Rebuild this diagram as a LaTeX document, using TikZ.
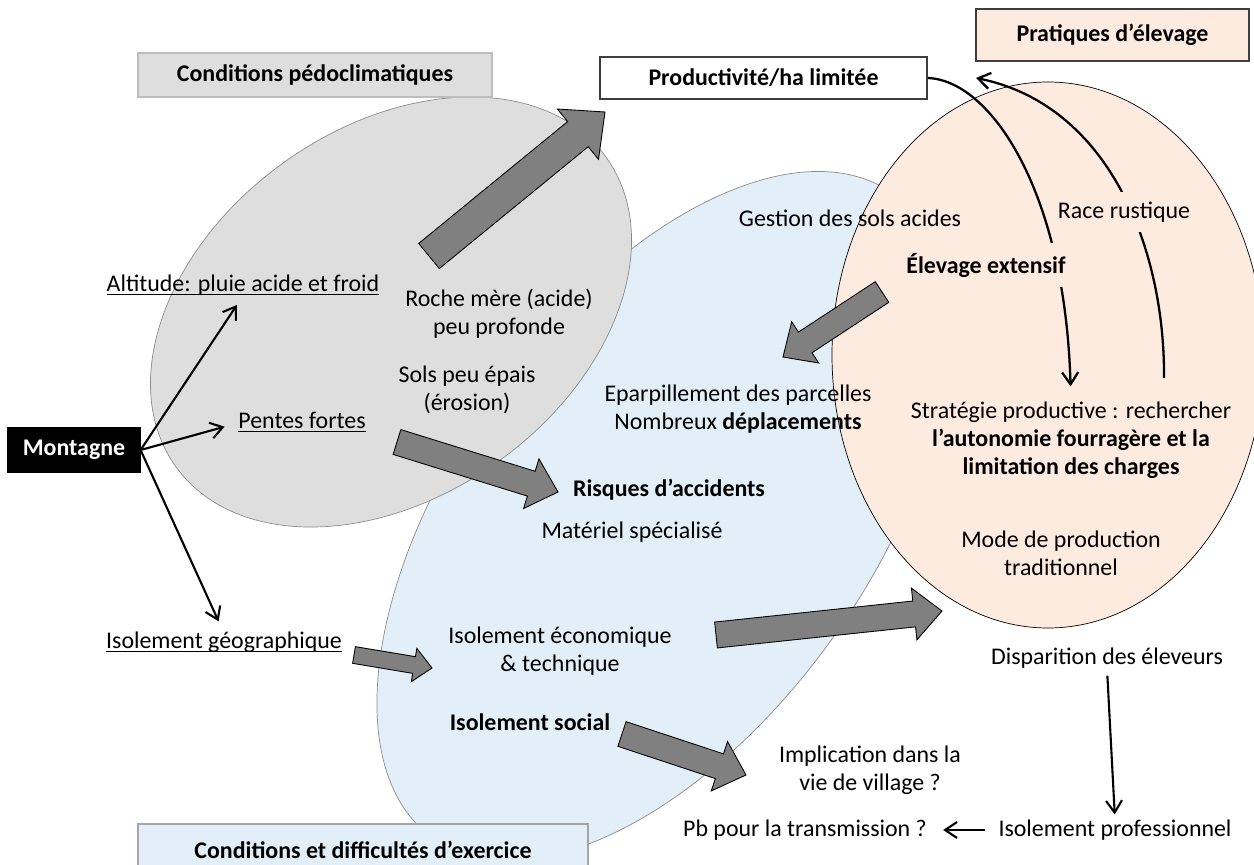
\documentclass[tikz,border=0pt]{standalone}
\usepackage{fontspec}
\setmainfont{Carlito}
\usetikzlibrary{arrows.meta,calc,positioning}

\definecolor{pedogray}{HTML}{DEDEDE}
\definecolor{pedoline}{HTML}{BDBDBD}
\definecolor{exerblue}{HTML}{E2EEF8}
\definecolor{exerline}{HTML}{A6A6A6}
\definecolor{elevpeach}{HTML}{FDEBDF}
\definecolor{ellline}{HTML}{8C8C8C}
\definecolor{darkline}{HTML}{3F3F3F}
\definecolor{fatgray}{HTML}{808080}

\pgfdeclarelayer{zones}
\pgfdeclarelayer{links}
\pgfsetlayers{zones,links,main}

\tikzset{
  txt/.style    = {font=\fontsize{13.6}{15.9}\selectfont, align=center, inner sep=0pt},
  txtb/.style   = {txt, font=\fontsize{13.6}{15.9}\selectfont\bfseries},
  cadre/.style  = {txtb, draw, line width=0.7pt},
  cache/.style  = {fill=elevpeach, inner xsep=1mm, inner ysep=2mm},
  fine/.style   = {-{Straight Barb[length=2.4mm,width=3.2mm]}, line width=1.2pt},
  courbe/.style = {fine, line width=1.3pt},
  fatarr/.style = {fill=fatgray, draw=black, line width=0.5pt, line join=miter}
}

% underline close to the baseline
\newcommand{\souligne}[1]{\underline{\smash{#1}\vphantom{A}}}

% block arrow: [size]{tail}{tip}
\newcommand{\fatarrow}[3][1]{%
  \coordinate (fa-h) at ($(#3)!#1*5.6mm!(#2)$);
  \draw[fatarr] ($(#2)!#1*2.6mm!90:(#3)$)
    -- ($(fa-h)!#1*2.6mm!90:(#3)$) -- ($(fa-h)!#1*5.2mm!90:(#3)$)
    -- (#3)
    -- ($(fa-h)!#1*5.2mm!-90:(#3)$) -- ($(fa-h)!#1*2.6mm!-90:(#3)$)
    -- ($(#2)!#1*2.6mm!-90:(#3)$) -- cycle;%
}

\begin{document}
\begin{tikzpicture}[x=0.02cm, y=-0.02cm]
  \useasboundingbox (0,0) rectangle (1254,865);

  % the three zones
  \begin{pgfonlayer}{zones}
    \draw[ellline, fill=exerblue, rotate around={54.5:(663,516)}]
      (663,516) ellipse [x radius=396, y radius=209];
    \draw[ellline, fill=pedogray, rotate around={35.7:(391,312)}]
      (391,312) ellipse [x radius=265, y radius=184];
    \draw[black, thin, fill=elevpeach] (1048,355) ellipse [x radius=216, y radius=273];
  \end{pgfonlayer}

  % title boxes
  \node[cadre, fill=pedogray, draw=pedoline, minimum width=70.8mm, minimum height=8.8mm]
    (pedo) at (315,75) {Conditions pédoclimatiques};
  \node[cadre, fill=white, draw=darkline, minimum width=65.4mm, minimum height=8.4mm]
    (prod) at (763.5,78) {Productivité/ha limitée};
  \node[cadre, fill=elevpeach, draw=darkline, minimum width=54.6mm, minimum height=10.4mm]
    (prat) at (1112.5,35) {Pratiques d’élevage};
  \node[cadre, fill=exerblue, draw=exerline, minimum width=90mm, minimum height=10.4mm]
    (exer) at (363,850) {Conditions et difficultés d’exercice};
  \node[cadre, fill=black, text=white, minimum width=26.4mm, minimum height=8.8mm]
    (mont) at (74,450) {Montagne};

  % factors
  \node[txt] (alt)    at (243,286) {\souligne{Altitude: pluie acide et froid}};
  \node[txt] (pentes) at (302,423) {\souligne{Pentes fortes}};
  \node[txt] (geo)    at (224,643) {\souligne{Isolement géographique}};

  \node[txt] (roche)  at (499,314) {Roche mère (acide)\\peu profonde};
  \node[txt] (sols)   at (467,390) {Sols peu épais\\(érosion)};

  \node[txt]  (gestion) at (850,218) {Gestion des sols acides};
  \node[txt]  (epar)    at (738,409) {Eparpillement des parcelles\\Nombreux \textbf{déplacements}};
  \node[txtb] (risq)    at (669,490) {Risques d’accidents};
  \node[txt]  (mat)     at (632,532) {Matériel spécialisé};
  \node[txt]  (isoeco)  at (560,651) {Isolement économique\\\& technique};
  \node[txtb] (social)  at (530,722) {Isolement social};

  \node[txt, cache]  (race)  at (1124,212) {Race rustique};
  \node[txtb, cache] (elev)  at (986,265) {Élevage extensif};
  \node[txt] (strat) at (1071,440) {Stratégie productive : rechercher\\
    \textbf{l’autonomie fourragère et la}\\\textbf{limitation des charges}};
  \node[txt] (mode)  at (1061,553) {Mode de production\\traditionnel};

  \node[txt] (disp) at (1107,658) {Disparition des éleveurs};
  \node[txt] (impl) at (870,770) {Implication dans la\\vie de village ?};
  \node[txt] (pb)   at (805,830) {Pb pour la transmission ?};
  \node[txt] (prof) at (1115,830) {Isolement professionnel};

  % free ends of the block arrows and of the curve
  \coordinate (fa1s) at (429,256); \coordinate (fa1e) at (605,112);
  \coordinate (fa2s) at (397,442); \coordinate (fa2e) at (558,492);
  \coordinate (fa3s) at (882,292); \coordinate (fa3e) at (783,357);
  \coordinate (fa4s) at (354,655); \coordinate (fa4e) at (432,668);
  \coordinate (fa5s) at (716,635); \coordinate (fa5e) at (942,611);
  \coordinate (fa6s) at (622,734); \coordinate (fa6e) at (746,775);
  \coordinate (rust-bas)  at (1164,378);
  \coordinate (rust-haut) at (976,78);

  \begin{pgfonlayer}{links}
    % curved links in the breeding zone
    \draw[courbe, shorten >=3mm] (prod.east) .. controls (990,80) and (1065,190) .. (strat.north);
    \draw[courbe] (rust-bas) .. controls (1165,250) and (1110,105) .. (rust-haut);

    % thin arrows
    \foreach \cible/\rac in {alt.south/2.2mm, pentes.west/2.8mm, geo.north/2.6mm}
      \draw[fine, shorten >=\rac] (mont.east) -- (\cible);
    \draw[fine, shorten <=1.4mm, shorten >=1mm] (disp.south) -- (prof.north);
    \draw[fine, shorten <=2.6mm, shorten >=3.2mm] (prof.west) -- (pb.east);

    % block arrows
    \fatarrow[1.25]{fa1s}{fa1e}
    \fatarrow{fa2s}{fa2e}
    \fatarrow[0.95]{fa3s}{fa3e}
    \fatarrow[0.65]{fa4s}{fa4e}
    \fatarrow{fa5s}{fa5e}
    \fatarrow{fa6s}{fa6e}
  \end{pgfonlayer}
\end{tikzpicture}
\end{document}
